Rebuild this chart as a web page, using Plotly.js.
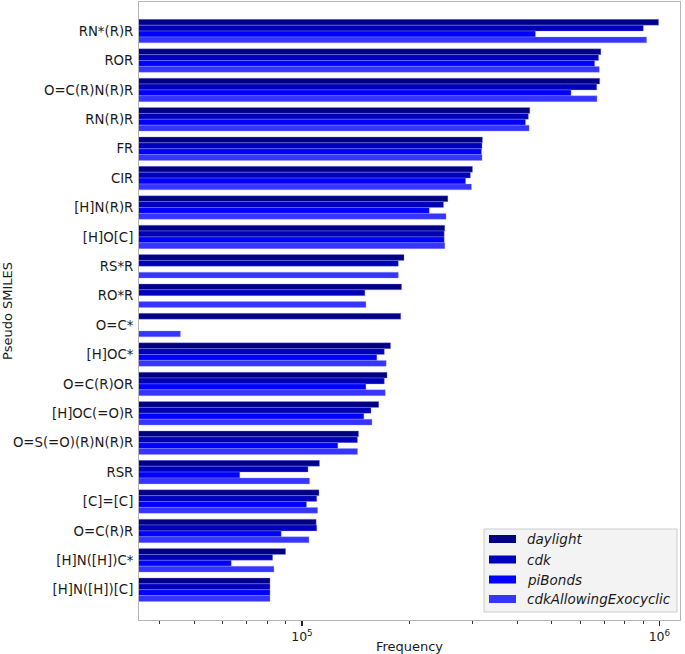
<!DOCTYPE html>
<html>
<head>
<meta charset="utf-8">
<script src="https://cdn.plot.ly/plotly-3.0.1.min.js"></script>
<style>html,body{margin:0;padding:0;background:#fff;}#chart{width:685px;height:654px;}</style>
</head>
<body>
<div id="chart"></div>
<script>
const categories = ["RN*(R)R","ROR","O=C(R)N(R)R","RN(R)R","FR","CIR","[H]N(R)R","[H]O[C]","RS*R","RO*R","O=C*","[H]OC*","O=C(R)OR","[H]OC(=O)R","O=S(=O)(R)N(R)R","RSR","[C]=[C]","O=C(R)R","[H]N([H])C*","[H]N([H])[C]"];
const seriesNames = ["daylight","cdk","piBonds","cdkAllowingExocyclic"];
const daylight = [995000,686000,681000,434000,320000,300000,256000,251000,193000,190000,189000,177000,173000,164000,144000,112000,111600,109600,90000,81400];
const cdk = [902000,676000,668000,430000,319000,296000,249000,250000,186000,150000,null,170000,170000,156000,143000,104000,110000,110000,82800,81400];
const piBonds = [450000,659000,566000,422000,318000,287000,227000,250000,null,null,null,162000,151000,149000,126000,67000,103000,87500,63400,81400];
const cdkAllowingExocyclic = [921000,679000,669000,432000,319000,298000,253000,251000,186000,151000,45700,172000,171000,157000,143000,105000,110600,104600,83500,81400];
const colors = ["#000086","#0000b8","#0000ff","#3535ff"];
const majorTicks = [1e5,1e6];
const majorTickText = ["10<sup>5</sup>","10<sup>6</sup>"];
const minorTicks = [4e4,5e4,6e4,7e4,8e4,9e4,2e5,3e5,4e5,5e5,6e5,7e5,8e5,9e5];

const W = 685, H = 654, ML = 139, MR = 5, MT = 2, MB = 34;
const PW = W - ML - MR, PH = H - MT - MB;
const px = x => (x - ML) / PW;          // pixel -> paper x
const py = y => (H - MB - y) / PH;      // pixel -> paper y

const allSeries = [daylight,cdk,piBonds,cdkAllowingExocyclic];
const traces = allSeries.map((vals,i)=>({
  type:'bar', orientation:'h', name:seriesNames[i],
  x:vals, y:categories,
  marker:{color:colors[i], line:{width:0.6,color:'rgba(150,150,255,0.6)'}},
  showlegend:false
}));

// custom legend (box, swatches, labels)
const shapes = [{
  type:'rect', xref:'paper', yref:'paper',
  x0:px(484), x1:px(677), y0:py(612), y1:py(529),
  fillcolor:'rgba(242,242,242,0.92)', line:{color:'#cccccc', width:1}, layer:'above'
}];
const annotations = [];
const rowY = [539, 559.5, 579.5, 599];
seriesNames.forEach((n,i)=>{
  shapes.push({type:'rect', xref:'paper', yref:'paper',
    x0:px(489), x1:px(516), y0:py(rowY[i]+4), y1:py(rowY[i]-4),
    fillcolor:colors[i], line:{width:0}, layer:'above'});
  annotations.push({xref:'paper', yref:'paper', x:px(525), y:py(rowY[i]),
    xanchor:'left', yanchor:'middle', showarrow:false, text:n,
    font:{size:13.5, style:'italic', color:'#1a1a1a'}});
});

const layout = {
  width:W, height:H,
  margin:{l:ML,r:MR,t:MT,b:MB},
  paper_bgcolor:'#fff', plot_bgcolor:'#fff',
  font:{family:'DejaVu Sans, sans-serif', size:12.5, color:'#1a1a1a'},
  barmode:'group', bargap:0.2, bargroupgap:0,
  xaxis:{
    type:'log', range:[Math.log10(35000), Math.log10(1142000)],
    tickvals:majorTicks, ticktext:majorTickText,
    ticks:'outside', ticklen:5, tickwidth:1.3, tickcolor:'#222',
    minor:{tickvals:minorTicks, ticks:'outside', ticklen:3, tickwidth:1, tickcolor:'#333', showgrid:false},
    showgrid:false, zeroline:false,
    showline:true, mirror:true, linecolor:'#b5b5b5', linewidth:1,
    tickfont:{size:12.5},
    title:{text:'Frequency', font:{size:13}, standoff:2}
  },
  yaxis:{
    type:'category', range:[20.03,-0.99],
    showgrid:false, zeroline:false, ticks:'',
    showline:true, mirror:true, linecolor:'#b5b5b5', linewidth:1,
    tickfont:{size:13.3}, ticklabelstandoff:2,
    title:{text:'Pseudo SMILES', font:{size:13}, standoff:3}
  },
  shapes:shapes,
  annotations:annotations,
  showlegend:false
};

Plotly.newPlot('chart', traces, layout, {displayModeBar:false, staticPlot:true});
</script>
</body>
</html>
